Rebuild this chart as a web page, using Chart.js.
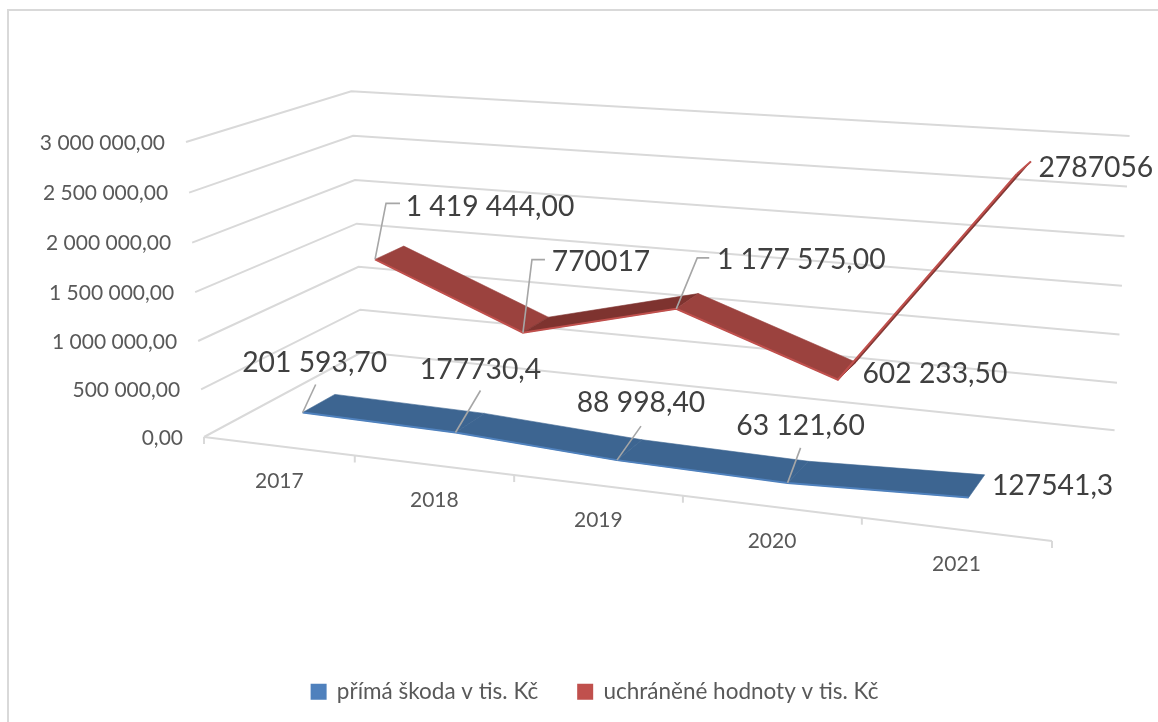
<!DOCTYPE html>
<html lang="cs">
<head>
<meta charset="utf-8">
<title>Škody a uchráněné hodnoty</title>
<style>
html,body{margin:0;padding:0;background:#fff;overflow:hidden}
#wrap{position:absolute;left:0;top:0;width:1158px;height:722px}
</style>
<script src="https://cdn.jsdelivr.net/npm/chart.js@4/dist/chart.umd.min.js"></script>
</head>
<body>
<div id="wrap"><canvas id="c" width="1158" height="722"></canvas></div>
<script>
// ---- data ----
const years = ['2017', '2018', '2019', '2020', '2021'];
const primaSkoda = [201593.7, 177730.4, 88998.4, 63121.6, 127541.3];
const uchraneneHodnoty = [1419444, 770017, 1177575, 602233.5, 2787056];
const primaSkodaLabels = ['201 593,70', '177730,4', '88 998,40', '63 121,60', '127541,3'];
const uchraneneLabels = ['1 419 444,00', '770017', '1 177 575,00', '602 233,50', '2787056'];
const seriesNames = ['přímá škoda v tis. Kč', 'uchráněné hodnoty v tis. Kč'];

// ---- layout of the 3D box (projective map of unit cube u,d,h to the canvas) ----
const A = [204, 437], B = [1052, 541], C = [362, 352], E = [186, 142];
const WU = -0.135, WD = 0.138, WH = -0.035;
const DEPTHS = [[0.15, 0.35], [0.645, 0.845]];
const LEADERS = [
  [{l:[12,-50], p:[[13,-28]]}, {l:[25,-63], p:[[25,-42]]}, {l:[24,-57], p:[[24,-34]]}, {l:[13,-57], p:[[13,-35]]}, {l:[84,-12], p:[]}],
  [{l:[115,-53], p:[[11,-56],[25,-56]]}, {l:[78,-71], p:[[9,-73],[22,-73]]}, {l:[125,-49], p:[[21,-51],[33,-51]]}, {l:[97,-6], p:[]}, {l:[79,-6], p:[]}]
];
const STYLE = {
  grid: '#d9d9d9', leader: '#a6a6a6', axisText: '#595959', labelText: '#404040',
  font: 'Lato, Carlito, "Open Sans", sans-serif',
  face: ['#3d6591', '#9b423e'], dark: ['#3d6591', '#7e332f'], edge: ['#4f81bd', '#c0504d']
};

function project(u, d, h) {
  const w = 1 + WU * u + WD * d + WH * h;
  const f = i => (A[i] + (B[i] * (1 + WU) - A[i]) * u + (C[i] * (1 + WD) - A[i]) * d + (E[i] * (1 + WH) - A[i]) * h) / w;
  return [f(0), f(1)];
}
function norm(chart, index, value) {
  const x = chart.scales.x, y = chart.scales.y;
  return [(x.getPixelForValue(index) - x.left) / x.width, (y.bottom - y.getPixelForValue(value)) / y.height];
}
function stroke(ctx, pts, color, width) {
  ctx.beginPath();
  pts.forEach((p, i) => i ? ctx.lineTo(p[0], p[1]) : ctx.moveTo(p[0], p[1]));
  ctx.strokeStyle = color; ctx.lineWidth = width; ctx.lineJoin = 'miter'; ctx.stroke();
}

const box3d = {
  id: 'box3d',
  afterLayout(chart) {
    const lg = chart.legend;
    lg.left += 16; lg.right += 16;
  },
  afterDatasetsUpdate(chart) {
    chart.data.datasets.forEach((ds, s) => {
      const meta = chart.getDatasetMeta(s);
      meta.data.forEach((el, i) => {
        const [u, h] = norm(chart, i, ds.data[i]);
        const p = project(u, DEPTHS[s][0], h);
        el.x = p[0]; el.y = p[1];
      });
    });
  },
  beforeDraw(chart) {
    const ctx = chart.ctx;
    ctx.save();
    stroke(ctx, [[8, 722], [8, 10], [1158, 10]], STYLE.grid, 2);
    ctx.restore();
  },
  beforeDatasetsDraw(chart) {
    const ctx = chart.ctx, yS = chart.scales.y;
    ctx.save();
    yS.ticks.forEach(t => {
      const h = (yS.bottom - yS.getPixelForValue(t.value)) / yS.height;
      stroke(ctx, [project(0, 0, h), project(0, 1, h), project(1, 1, h)], STYLE.grid, 2);
    });
    stroke(ctx, [project(0, 0, 0), project(1, 0, 0)], STYLE.grid, 2);
    for (let k = 0; k <= years.length; k++) {
      const p = project(k / years.length, 0, 0);
      stroke(ctx, [p, [p[0], p[1] + 7]], STYLE.grid, 2);
    }
    ctx.fillStyle = STYLE.axisText;
    ctx.font = '21px ' + STYLE.font;
    ctx.textBaseline = 'middle';
    ctx.textAlign = 'right';
    yS.ticks.forEach(t => {
      const h = (yS.bottom - yS.getPixelForValue(t.value)) / yS.height;
      const p = project(0, 0, h);
      ctx.fillText(t.label, p[0] - 21, p[1] + 1);
    });
    ctx.textAlign = 'center';
    years.forEach((y, i) => {
      const [u] = norm(chart, i, 0);
      const p = project(u, 0, 0);
      ctx.fillText(y, p[0] + 1, p[1] + 35);
    });
    ctx.restore();
  },
  beforeDatasetDraw(chart, args) {
    const s = args.index, ds = chart.data.datasets[s], ctx = chart.ctx;
    ctx.save();
    for (let i = 0; i < ds.data.length - 1; i++) {
      const [u0, h0] = norm(chart, i, ds.data[i]);
      const [u1, h1] = norm(chart, i + 1, ds.data[i + 1]);
      const q = [project(u0, DEPTHS[s][0], h0), project(u1, DEPTHS[s][0], h1),
                 project(u1, DEPTHS[s][1], h1), project(u0, DEPTHS[s][1], h0)];
      ctx.beginPath();
      q.forEach((p, k) => k ? ctx.lineTo(p[0], p[1]) : ctx.moveTo(p[0], p[1]));
      ctx.closePath();
      const rising = h1 - h0 > 0.05;
      const color = rising ? STYLE.dark[s] : STYLE.face[s];
      ctx.fillStyle = color; ctx.strokeStyle = color; ctx.lineWidth = 0.6;
      ctx.fill(); ctx.stroke();
      if (i === ds.data.length - 2 && rising) stroke(ctx, [q[1], q[2]], STYLE.edge[s], 2);
    }
    ctx.restore();
  },
  afterDatasetsDraw(chart) {
    const ctx = chart.ctx;
    ctx.save();
    chart.data.datasets.forEach((ds, s) => {
      chart.getDatasetMeta(s).data.forEach((el, i) => {
        const L = LEADERS[s][i];
        if (L.p.length) stroke(ctx, [[el.x, el.y]].concat(L.p.map(o => [el.x + o[0], el.y + o[1]])), STYLE.leader, 1.6);
      });
    });
    ctx.fillStyle = STYLE.labelText;
    ctx.font = '28.3px ' + STYLE.font;
    ctx.textAlign = 'center';
    ctx.textBaseline = 'middle';
    chart.data.datasets.forEach((ds, s) => {
      chart.getDatasetMeta(s).data.forEach((el, i) => {
        const L = LEADERS[s][i];
        ctx.fillText(ds.pointLabels[i], el.x + L.l[0], el.y + L.l[1]);
      });
    });
    ctx.restore();
  }
};

new Chart(document.getElementById('c'), {
  type: 'line',
  data: {
    labels: years,
    datasets: [
      { label: seriesNames[0], data: primaSkoda, pointLabels: primaSkodaLabels, borderColor: STYLE.edge[0], backgroundColor: STYLE.edge[0], borderWidth: 2, pointRadius: 0, tension: 0, fill: false },
      { label: seriesNames[1], data: uchraneneHodnoty, pointLabels: uchraneneLabels, borderColor: STYLE.edge[1], backgroundColor: STYLE.edge[1], borderWidth: 2, pointRadius: 0, tension: 0, fill: false }
    ]
  },
  options: {
    responsive: false,
    animation: false,
    layout: { padding: { bottom: 9 } },
    scales: {
      x: { type: 'category', offset: true, display: false },
      y: {
        type: 'linear', min: 0, max: 3000000, display: false,
        ticks: {
          stepSize: 500000,
          callback: v => {
            const s = String(Math.round(v)).replace(/\B(?=(\d{3})+$)/g, ' ');
            return s + ',00';
          }
        }
      }
    },
    plugins: {
      tooltip: { enabled: false },
      title: { display: false },
      legend: {
        position: 'bottom',
        labels: {
          boxWidth: 14, boxHeight: 14, padding: 40, color: STYLE.axisText,
          font: { family: STYLE.font, size: 22.5 }
        }
      }
    }
  },
  plugins: [box3d]
});
</script>
</body>
</html>
